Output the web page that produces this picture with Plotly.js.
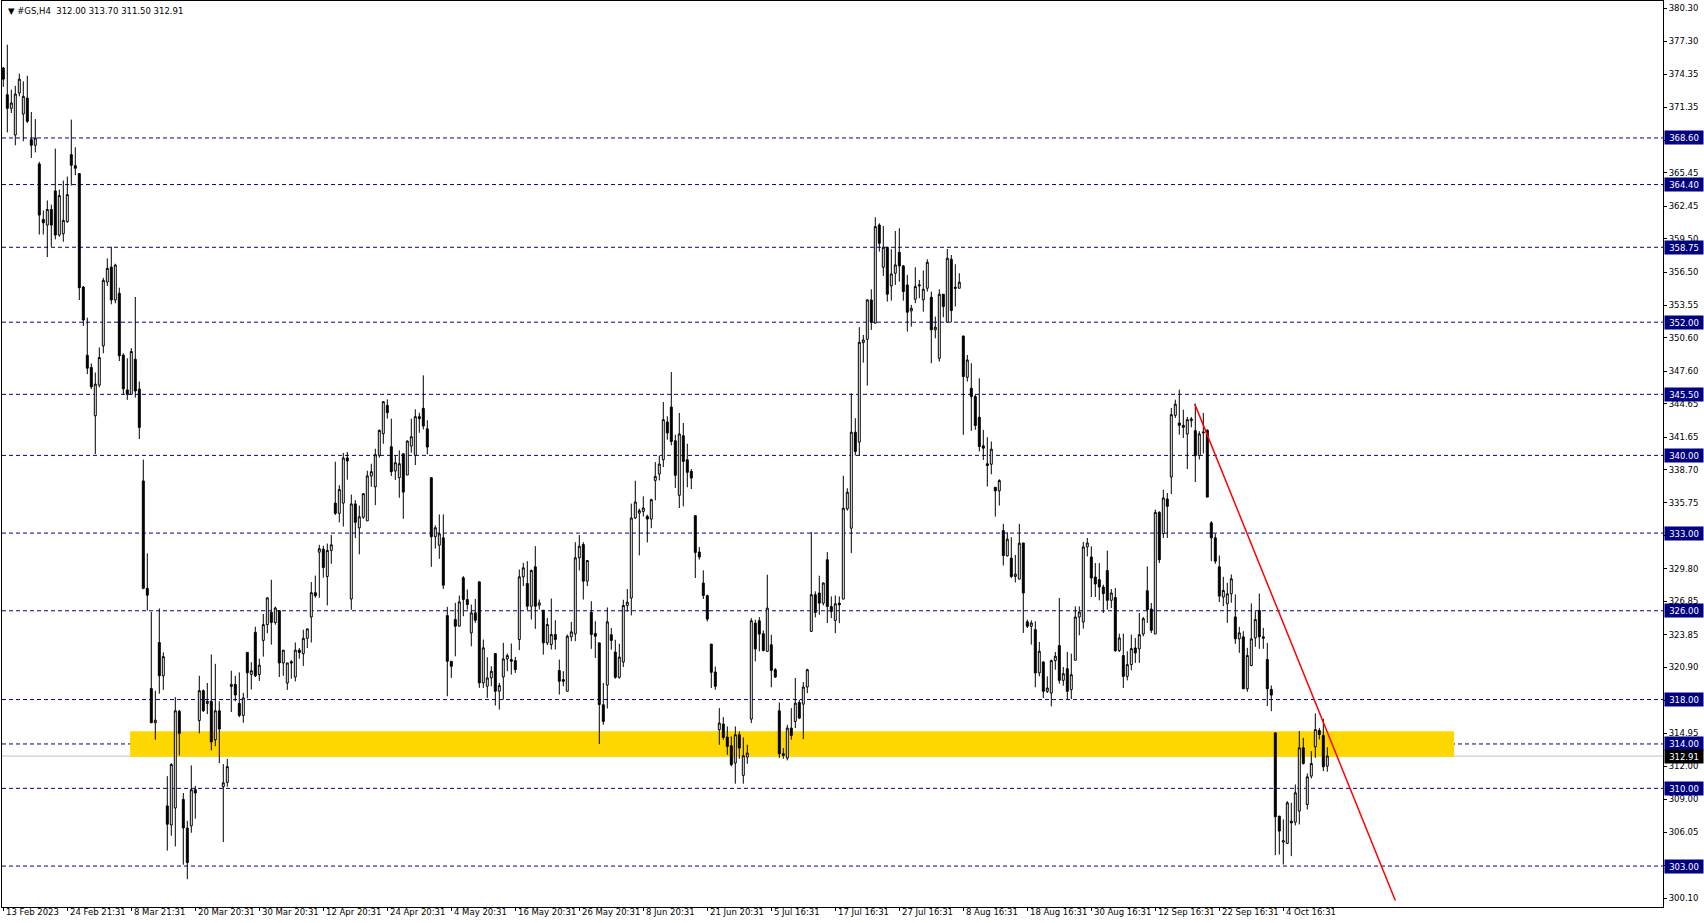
<!DOCTYPE html>
<html>
<head>
<meta charset="utf-8">
<script src="https://cdn.plot.ly/plotly-3.0.1.min.js"></script>
<style>html,body{margin:0;padding:0;background:#fff;}#chart{width:1704px;height:923px;}</style>
</head>
<body>
<div id="chart"></div>
<script>
const opens = [374.9,372.5,371.27,368.87,372.65,370.76,372.2,368.45,367.94,366.26,
361.26,360.75,362.16,363.83,359.85,359.97,361.05,367.1,366.11,365.39,
355.17,349.02,347.92,343.57,346.33,349.87,355.62,356.97,354.0,354.6,
349.03,345.9,345.5,348.66,345.97,337.7,328.02,318.99,315.91,323.14,
320.14,308.42,306.7,308.23,316.95,309.0,306.43,306.62,309.88,316.11,
318.8,317.65,317.84,314.38,316.99,310.15,310.54,319.18,319.37,317.65,
316.57,322.25,320.26,324.06,320.26,323.33,324.75,325.87,324.94,326.02,
321.3,319.49,321.41,320.03,322.45,322.14,323.52,325.44,327.63,331.28,
331.55,329.09,331.44,335.7,334.78,335.7,339.77,327.06,335.63,333.47,
334.43,334.1,338.14,337.17,340.0,341.95,344.51,340.78,338.59,337.99,
340.15,338.23,340.84,340.0,343.49,344.24,342.4,337.99,332.67,331.91,
332.57,325.57,321.45,325.21,324.61,328.97,327.01,324.01,325.81,328.61,
319.5,319.2,319.95,322.15,318.75,320.04,321.66,321.6,321.51,323.41,
329.06,328.46,326.41,329.96,326.5,326.05,323.11,322.96,323.86,320.61,
319.8,318.75,323.65,323.92,330.77,331.97,328.67,325.87,323.95,323.11,
317.53,319.3,323.84,322.28,320.0,321.38,326.48,327.15,334.36,334.8,
334.95,334.5,334.26,337.75,338.32,339.61,343.01,344.36,341.32,336.4,
341.77,339.61,338.56,334.57,331.29,328.5,327.36,323.0,320.48,315.28,
315.79,314.62,313.84,312.28,314.83,311.17,312.82,316.24,324.89,325.1,
323.93,322.34,322.94,320.69,316.99,313.12,312.73,315.43,316.03,317.74,
317.59,319.13,324.14,327.45,327.6,326.69,330.6,326.38,325.13,326.69,
327.05,335.18,333.44,342.09,341.19,350.16,350.46,354.01,351.91,360.76,
356.95,358.75,355.27,356.41,358.3,357.07,355.36,353.01,354.07,355.27,
354.01,355.06,354.25,351.31,348.75,354.52,352.0,357.67,355.15,355.06,
350.76,347.04,346.05,345.3,343.44,340.86,339.24,339.2,337.13,336.8,
333.23,330.95,330.74,329.09,328.85,332.11,325.0,324.6,324.3,320.4,
321.39,318.74,318.59,321.51,322.86,319.73,320.78,318.89,321.54,325.44,
324.99,331.75,330.84,329.04,328.8,328.14,329.62,326.94,327.21,322.41,
321.96,320.09,321.15,322.65,322.56,323.91,327.81,326.16,323.91,334.87,
332.95,336.07,338.05,343.61,342.92,342.71,341.93,343.13,342.23,339.99,
342.03,342.27,333.92,332.57,329.96,327.23,326.63,327.53,325.45,323.47,
323.65,318.97,321.07,323.56,326.03,323.65,321.61,318.91,315.0,307.5,
305.16,305.04,307.04,306.95,307.95,313.65,308.55,311.1,313.74,315.21,
314.76,312.0];
const highs = [375.0,377.0,372.95,373.3,374.4,373.7,374.2,370.94,370.3,366.44,
362.07,362.97,362.6,367.64,363.95,364.76,365.12,370.25,367.76,365.39,
355.26,352.41,348.28,347.47,349.72,356.0,357.75,358.8,357.27,355.11,
349.2,348.75,349.66,354.27,346.66,339.62,331.17,325.9,318.8,326.21,
322.25,311.1,312.27,318.22,317.07,309.58,307.08,312.07,310.23,320.14,
318.91,319.49,322.06,321.22,317.84,312.19,312.65,320.6,320.14,320.45,
318.61,322.25,321.37,324.56,321.68,325.71,327.17,328.79,326.37,326.02,
322.45,321.3,321.56,323.14,322.64,324.29,324.37,328.59,329.17,331.94,
331.86,332.05,332.82,339.43,337.31,340.23,340.31,336.47,335.97,335.47,
336.55,338.62,339.25,340.6,342.34,344.9,345.05,343.31,339.94,340.45,
340.15,341.35,343.31,344.15,343.85,347.21,343.16,337.99,333.69,334.68,
334.68,326.35,321.45,326.71,327.37,329.12,327.92,326.56,327.07,328.61,
323.41,321.81,321.0,322.15,319.5,323.11,322.15,323.05,321.84,329.72,
330.32,330.47,329.72,331.82,327.01,326.05,325.36,327.1,325.15,321.6,
320.55,323.86,325.0,332.18,332.82,332.18,330.53,326.86,325.06,323.11,
319.49,326.3,324.44,323.39,323.03,326.99,327.96,335.65,337.72,335.2,
336.31,334.66,336.1,339.4,340.0,344.81,343.52,347.51,341.86,343.82,
342.92,341.05,338.77,334.57,331.74,329.64,327.45,323.0,320.98,317.23,
316.42,315.58,314.68,315.58,315.13,314.59,313.93,325.34,325.19,325.43,
324.23,329.25,323.84,320.84,317.74,313.63,315.73,317.23,319.94,317.98,
319.58,320.78,333.09,327.75,329.16,328.56,331.29,327.29,327.38,327.29,
338.16,337.04,345.6,343.35,351.55,350.85,354.07,354.97,361.45,360.91,
360.67,358.75,358.57,360.22,360.46,357.16,356.26,353.56,356.95,355.81,
356.65,357.67,354.76,352.51,354.97,354.52,358.6,358.06,357.22,356.41,
350.76,349.05,348.3,345.45,346.95,342.3,341.64,341.25,337.13,337.85,
333.83,333.08,332.63,331.04,333.83,332.11,325.2,325.14,325.05,323.19,
321.45,320.09,321.6,322.29,327.15,320.93,322.29,322.14,326.4,326.4,
332.2,332.56,331.81,330.3,330.3,328.35,331.42,327.96,328.05,323.94,
323.94,322.35,323.85,323.55,325.8,325.44,330.0,326.7,335.11,334.96,
336.91,336.61,344.27,345.02,345.92,344.12,343.46,343.46,344.66,342.18,
343.83,342.33,334.07,332.96,330.98,329.06,328.52,329.27,327.47,324.55,
324.16,322.66,326.66,325.96,327.56,324.46,323.11,319.27,315.0,307.5,
307.2,308.85,308.7,310.35,315.15,314.55,311.34,313.35,316.75,315.45,
316.27,313.7];
const lows = [373.2,369.1,370.85,367.94,372.35,368.3,369.95,366.8,367.3,359.9,
359.9,357.87,358.8,359.46,359.7,359.25,360.96,364.31,365.24,354.0,
351.66,347.32,345.97,340.12,346.12,349.2,355.26,353.61,353.7,348.5,
345.5,345.0,345.5,345.2,341.47,327.94,326.02,315.91,314.38,318.53,
318.87,304.39,305.73,304.77,312.96,303.12,301.81,306.0,307.27,314.95,
316.88,316.69,313.42,313.8,312.27,305.16,310.15,316.88,317.84,316.41,
315.91,318.11,318.91,320.03,319.68,321.87,323.98,322.95,324.75,320.03,
320.14,318.87,319.87,319.64,321.68,321.03,322.64,323.14,327.17,327.17,
328.98,326.48,330.24,334.63,333.97,333.59,337.81,326.09,332.55,331.09,
334.28,334.1,337.17,335.52,339.79,341.05,343.31,338.14,337.78,336.18,
334.29,338.23,340.24,339.13,342.04,342.34,340.09,329.96,331.61,330.68,
327.97,318.3,319.95,321.9,324.61,325.51,326.11,322.8,324.91,319.05,
319.05,318.15,319.2,317.46,317.1,318.0,320.55,320.25,320.4,322.45,
328.22,326.05,325.21,324.37,326.11,322.05,322.9,322.51,322.51,318.45,
319.2,318.75,323.26,323.26,329.63,327.01,328.22,322.57,321.75,314.0,
315.73,317.2,322.49,319.88,319.88,320.93,325.94,325.58,334.26,330.99,
334.5,332.16,333.45,335.95,337.75,338.95,341.41,340.9,337.06,335.26,
335.41,337.12,336.97,328.95,330.6,327.06,325.04,319.04,318.88,313.93,
314.38,313.03,311.98,310.42,312.67,310.42,312.22,315.88,321.44,322.34,
322.34,322.34,319.1,319.94,312.73,312.67,312.52,314.38,315.43,316.24,
314.44,318.58,324.14,325.4,325.64,326.48,324.89,325.34,323.98,324.88,
327.05,335.03,331.19,339.99,339.99,348.36,346.29,351.31,351.91,358.36,
356.17,353.86,353.95,355.36,355.66,353.95,351.15,351.6,353.71,354.16,
352.95,354.76,348.3,350.55,348.45,352.45,352.0,352.0,353.41,355.06,
341.85,346.65,342.21,342.3,340.35,339.59,337.19,338.3,334.49,335.48,
330.08,330.89,328.94,328.55,328.85,324.0,324.45,322.95,319.1,320.09,
318.14,318.59,317.39,320.69,319.43,319.25,318.0,318.05,321.54,323.79,
324.39,330.9,327.24,327.24,326.94,325.8,326.1,326.25,322.29,322.29,
319.04,319.73,320.63,321.3,321.3,323.7,324.9,324.0,323.91,330.3,
332.56,332.56,336.52,343.37,341.87,341.57,338.77,342.53,337.6,339.63,
340.17,336.24,330.47,330.23,326.78,326.42,324.91,326.72,323.02,322.21,
318.97,318.7,321.01,322.75,322.57,322.57,317.41,316.95,303.98,304.04,
303.14,305.0,303.89,306.66,306.75,312.15,308.1,310.89,312.75,314.4,
311.55,311.5];
const closes = [373.9,371.27,371.75,372.56,373.9,372.35,370.1,367.94,368.6,361.65,
360.96,362.16,360.75,359.85,363.41,361.17,363.5,366.14,365.87,355.11,
352.2,347.86,346.18,346.42,348.82,355.77,356.85,354.0,357.15,348.97,
346.0,345.5,349.36,345.8,342.52,328.02,327.4,315.91,316.14,320.14,
321.87,306.77,312.15,316.99,314.95,306.43,303.31,309.88,309.58,318.8,
317.0,317.84,314.19,316.99,315.34,310.5,311.96,319.37,318.41,316.57,
318.15,320.41,320.6,320.14,321.1,324.75,327.17,324.94,326.25,321.3,
322.45,321.3,321.3,322.45,322.25,323.52,324.37,327.63,327.36,331.59,
329.9,331.44,331.94,334.78,336.93,339.77,339.5,335.63,333.97,334.47,
336.55,338.15,338.53,340.06,342.25,344.84,343.85,338.53,339.34,339.25,
336.69,341.29,341.68,343.49,343.31,342.64,340.75,332.67,333.48,332.94,
328.31,321.45,321.0,324.61,326.8,327.01,326.56,325.81,325.15,319.5,
322.66,319.95,320.55,318.75,319.26,321.66,321.96,321.45,320.7,329.06,
329.87,326.41,329.63,326.41,326.71,323.11,324.76,323.86,323.41,319.65,
319.65,323.71,324.1,330.77,331.82,328.67,330.53,323.86,323.71,317.55,
316.03,325.0,323.33,320.0,321.83,326.48,326.78,334.36,335.8,335.02,
335.26,334.26,336.01,338.11,339.22,343.22,342.02,341.26,338.2,341.93,
339.46,338.47,337.96,331.26,330.84,327.38,325.25,320.45,319.19,315.88,
314.59,313.78,312.13,314.83,313.63,312.94,313.18,325.1,322.55,323.9,
322.43,326.24,320.63,320.03,313.12,312.97,315.43,314.77,317.68,316.33,
319.13,320.69,327.45,325.85,326.69,328.5,326.39,325.94,326.63,326.54,
335.24,336.68,342.09,340.35,350.19,350.4,354.01,352.0,360.61,359.11,
358.75,354.52,356.35,357.16,357.07,354.76,352.9,353.26,355.21,355.36,
354.97,357.4,351.31,351.55,354.52,353.41,357.76,353.05,355.06,355.6,
347.1,348.6,345.3,342.69,340.8,340.65,339.09,340.56,336.8,337.73,
330.98,332.45,329.09,329.3,332.09,327.6,324.6,324.9,320.4,322.35,
318.74,319.04,321.51,321.9,319.73,320.33,318.74,320.24,325.44,325.89,
331.75,332.11,328.95,328.41,328.14,327.54,326.94,327.6,322.41,323.55,
320.09,321.15,322.59,322.2,323.85,325.29,326.1,324.24,334.87,330.6,
336.16,335.41,343.67,344.61,342.71,342.53,343.22,343.28,339.97,341.94,
342.09,336.24,332.57,330.47,327.32,327.83,327.53,328.88,323.47,324.01,
318.97,321.97,323.47,325.21,323.65,323.53,318.97,318.4,307.44,306.15,
305.28,308.7,306.89,309.6,313.65,312.24,311.04,312.24,315.3,314.85,
311.94,312.91];

const xTickIdx = [0,16,32,48,64,80,96,112,128,144,160,176,192,208,224,240,256,272,288,304,320];
const xTickText = ["13 Feb 2023","24 Feb 21:31","8 Mar 21:31","20 Mar 20:31","30 Mar 20:31","12 Apr 20:31",
"24 Apr 20:31","4 May 20:31","16 May 20:31","26 May 20:31","8 Jun 20:31","21 Jun 20:31","5 Jul 16:31",
"17 Jul 16:31","27 Jul 16:31","8 Aug 16:31","18 Aug 16:31","30 Aug 16:31","12 Sep 16:31","22 Sep 16:31","4 Oct 16:31"];
const yTickVals = [380.30,377.30,374.35,371.35,368.40,365.45,362.45,359.50,356.50,353.55,350.60,347.60,344.65,
341.65,338.70,335.75,332.75,329.80,326.85,323.85,320.90,317.90,314.95,312.00,309.00,306.05,303.05,300.10];
const levels = [368.60,364.40,358.75,352.00,345.50,340.00,333.00,326.00,318.00,314.00,310.00,303.00];
const currentPrice = 312.91;
const zone = {x0: 31.7, x1: 362.7, y0: 312.85, y1: 315.15};
const trendLine = {x0: 297.85, y0: 344.64, x1: 348.0, y1: 299.9};
const title = "▼ #GS,H4\u00a0\u00a0312.00 313.70 311.50 312.91";

const idx = opens.map((_, i) => i);
const FONT = "DejaVu Sans";

const trace = {
  type: 'candlestick', x: idx, open: opens, high: highs, low: lows, close: closes,
  increasing: {line: {color: '#000000', width: 1}, fillcolor: '#ffffff'},
  decreasing: {line: {color: '#000000', width: 1}, fillcolor: '#000000'},
  whiskerwidth: 0, hoverinfo: 'none', showlegend: false
};

const shapes = [];
shapes.push({type: 'rect', xref: 'x', yref: 'y', x0: zone.x0, x1: zone.x1, y0: zone.y0, y1: zone.y1,
  fillcolor: '#FFD700', line: {width: 0}, layer: 'below'});
levels.forEach(v => shapes.push({type: 'line', xref: 'paper', yref: 'y', x0: 0, x1: 1, y0: v, y1: v,
  line: {color: '#000080', width: 1, dash: '4px,3px'}, layer: 'below'}));
shapes.push({type: 'line', xref: 'paper', yref: 'y', x0: 0, x1: 1, y0: currentPrice, y1: currentPrice,
  line: {color: '#C0C0C0', width: 1}, layer: 'below'});
shapes.push({type: 'line', xref: 'x', yref: 'y', x0: trendLine.x0, y0: trendLine.y0, x1: trendLine.x1, y1: trendLine.y1,
  line: {color: '#FF0000', width: 1.5}, layer: 'above'});

const annotations = [];
levels.forEach(v => annotations.push({xref: 'paper', yref: 'y', x: 1, y: v, xanchor: 'left', yanchor: 'middle',
  xshift: 1, text: v.toFixed(2), showarrow: false, bgcolor: '#000080', borderpad: 1, width: 36, height: 11,
  font: {family: FONT, size: 8.5, color: '#ffffff'}}));
annotations.push({xref: 'paper', yref: 'y', x: 1, y: currentPrice, xanchor: 'left', yanchor: 'middle',
  xshift: 1, text: currentPrice.toFixed(2), showarrow: false, bgcolor: '#000000', borderpad: 1, width: 36, height: 11,
  font: {family: FONT, size: 8.5, color: '#ffffff'}});
annotations.push({xref: 'paper', yref: 'paper', x: 0, y: 1, xanchor: 'left', yanchor: 'top', xshift: 4, yshift: -3,
  text: title, showarrow: false, font: {family: FONT, size: 8.5, color: '#000000'}});
xTickIdx.forEach((t, k) => annotations.push({xref: 'x', yref: 'paper', x: t, y: 0, xanchor: 'left', yanchor: 'top',
  xshift: 2, yshift: 1, text: xTickText[k], showarrow: false, borderpad: 0,
  font: {family: FONT, size: 8.5, color: '#000000'}}));

const layout = {
  width: 1704, height: 923,
  margin: {l: 2, r: 41, t: 1, b: 16, pad: 0},
  paper_bgcolor: '#ffffff', plot_bgcolor: '#ffffff',
  showlegend: false, dragmode: false,
  font: {family: FONT, size: 8.5, color: '#000000'},
  xaxis: {
    type: 'linear', range: [-0.325, 414.925], rangeslider: {visible: false},
    showgrid: false, zeroline: false, showline: true, linecolor: '#000000', linewidth: 1, mirror: true,
    ticks: 'outside', ticklen: 3, tickcolor: '#000000', tickwidth: 1,
    tickmode: 'array', tickvals: xTickIdx, showticklabels: false, fixedrange: true
  },
  yaxis: {
    side: 'right', range: [299.31, 380.94],
    showgrid: false, zeroline: false, showline: true, linecolor: '#000000', linewidth: 1, mirror: true,
    ticks: 'outside', ticklen: 3, tickcolor: '#000000', tickwidth: 1,
    tickmode: 'array', tickvals: yTickVals, ticktext: yTickVals.map(v => v.toFixed(2)),
    tickfont: {family: FONT, size: 8.5, color: '#000000'}, fixedrange: true
  },
  shapes: shapes, annotations: annotations
};

Plotly.newPlot('chart', [trace], layout, {staticPlot: true, displayModeBar: false});
</script>
</body>
</html>
